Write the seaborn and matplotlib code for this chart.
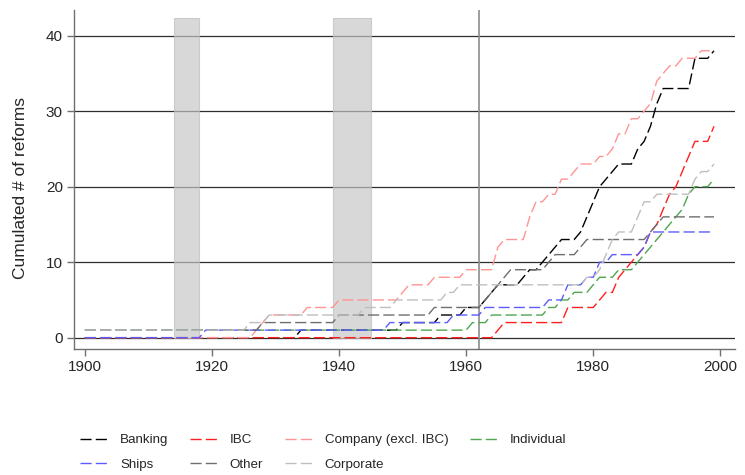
import numpy as np
import pandas as pd
import seaborn as sns
import matplotlib.pyplot as plt

# years covered by the chart
years = list(range(1900, 2000))

# year of each reform (a year listed twice = two reforms that year)
banking_reforms = [1934, 1950, 1956, 1960, 1963, 1964, 1965, 1969, 1970, 1972, 1973, 1974, 1975,
                   1978, 1979, 1979, 1980, 1980, 1981, 1981, 1982, 1983, 1984, 1987, 1987, 1988,
                   1989, 1989, 1990, 1990, 1990, 1991, 1991, 1996, 1996, 1996, 1996, 1999]
ibc_reforms = [1965, 1966, 1976, 1976, 1981, 1982, 1984, 1984, 1985, 1986, 1987, 1988, 1989, 1989,
               1990, 1991, 1991, 1992, 1992, 1993, 1994, 1994, 1995, 1995, 1996, 1996, 1999, 1999]
company_reforms = [1927, 1928, 1929, 1935, 1940, 1950, 1951, 1955, 1960, 1965, 1965, 1965, 1966,
                   1970, 1970, 1970, 1971, 1971, 1973, 1975, 1975, 1977, 1978, 1981, 1983, 1984,
                   1984, 1986, 1986, 1988, 1989, 1990, 1990, 1990, 1991, 1992, 1994, 1997]
individual_reforms = [1900, 1961, 1964, 1973, 1975, 1977, 1980, 1981, 1984, 1987, 1988, 1989,
                      1990, 1991, 1992, 1993, 1994, 1995, 1995, 1996, 1999]
ships_reforms = [1919, 1948, 1958, 1963, 1973, 1976, 1976, 1979, 1981, 1981, 1983, 1988, 1989, 1989]
other_reforms = [1900, 1928, 1940, 1955, 1963, 1964, 1965, 1966, 1967, 1973, 1974, 1978, 1979,
                 1989, 1990, 1991]
corporate_reforms = [1900, 1926, 1929, 1944, 1949, 1957, 1959, 1979, 1981, 1982, 1982, 1983, 1983,
                     1984, 1987, 1987, 1988, 1988, 1990, 1996, 1996, 1997, 1999]

series_names = ['Banking', 'IBC', 'Company (excl. IBC)', 'Individual', 'Ships', 'Other', 'Corporate']
series_reforms = [banking_reforms, ibc_reforms, company_reforms, individual_reforms,
                  ships_reforms, other_reforms, corporate_reforms]
series_colors = ['#000000', '#ff1f1f', '#ff9494', '#4fa64f', '#5c5cff', '#6e6e6e', '#bfbfbf']

# shaded war periods and the reference year
war_periods = [(1914, 1918), (1939, 1945)]
cutoff_year = 1962

# long table: cumulated number of reforms per year
rows = []
for name, reforms in zip(series_names, series_reforms):
    for y in years:
        rows.append({'year': y, 'series': name, 'count': sum(r <= y for r in reforms)})
df = pd.DataFrame(rows)

sns.set_theme(style='white')
plt.rcParams['font.family'] = ['Liberation Sans', 'DejaVu Sans']

fig = plt.figure(figsize=(7.45, 4.75), dpi=100)
ax = fig.add_axes([74 / 745, 1 - 349 / 475, 661 / 745, 339 / 475])

for yv in [0, 10, 20, 30, 40]:
    ax.axhline(yv, color='#2e2e2e', lw=0.9, zorder=1)

for start, end in war_periods:
    ax.fill_between([start, end], 0, 42.3, facecolor='#c6c6c6', edgecolor='#bdbdbd',
                    alpha=0.68, lw=0.8, zorder=2)

ax.axvline(cutoff_year, color='#8c8c8c', lw=1.2, zorder=2)

for name, color in zip(series_names, series_colors):
    sub = df[df['series'] == name]
    sns.lineplot(x=sub['year'], y=sub['count'], color=color, lw=1.0,
                 linestyle=(0, (8, 3)), label=name, ax=ax, zorder=3)

ax.set_xlim(1898.3, 2002.3)
ax.set_ylim(-1.5, 43.4)
ax.set_xticks(range(1900, 2001, 20))
ax.set_yticks(range(0, 41, 10))
ax.set_xlabel('')
ax.set_ylabel('Cumulated # of reforms', fontsize=12.5)
ax.yaxis.set_label_coords(-0.069, 0.475)

sns.despine(ax=ax)
for side in ['left', 'bottom']:
    ax.spines[side].set_color('#707070')
    ax.spines[side].set_linewidth(1.0)
ax.tick_params(bottom=True, left=True, direction='out', length=5, width=1,
               color='#707070', labelsize=11, pad=3)

# legend laid out row by row like the original (4 columns)
handles, labels = ax.get_legend_handles_labels()
ax.get_legend().remove()
order = [0, 4, 1, 5, 2, 6, 3]
fig.legend([handles[i] for i in order], [labels[i] for i in order],
           loc='upper left', bbox_to_anchor=(80 / 745, 1 - 434 / 475), ncol=4,
           frameon=False, fontsize=9.6, handlelength=2.1, handletextpad=0.9,
           columnspacing=1.6, labelspacing=0.93, borderpad=0, borderaxespad=0)

plt.savefig('out.png', dpi=100)
